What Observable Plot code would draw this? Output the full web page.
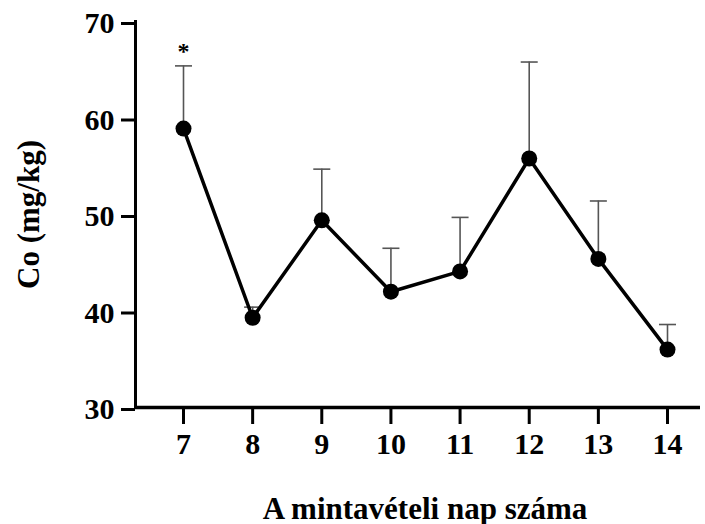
<!DOCTYPE html>
<html>
<head>
<meta charset="utf-8">
<script src="https://cdn.jsdelivr.net/npm/d3@7"></script>
<script src="https://cdn.jsdelivr.net/npm/@observablehq/plot@0.6"></script>
<style>
  html, body { margin: 0; padding: 0; background: #fff; }
  #chart { width: 705px; height: 524px; }
</style>
</head>
<body>
<div id="chart"></div>
<script>
const days = [7, 8, 9, 10, 11, 12, 13, 14];
const means = [58.9, 39.3, 49.4, 42.0, 44.1, 55.8, 45.4, 36.0];
const upper = [65.4, 40.4, 54.7, 46.5, 49.7, 65.8, 51.4, 38.6];
const yTicks = [30, 40, 50, 60, 70];
const sigMarks = ["*", "", "", "", "", "", "", ""];
const xTitle = "A mintavételi nap száma";
const yTitle = "Co (mg/kg)";

const data = days.map((d, i) => ({day: d, mean: means[i], upper: upper[i], sig: sigMarks[i]}));

const capSymbol = {
  draw(ctx, size) {
    const r = Math.sqrt(size / Math.PI);
    ctx.moveTo(-r, 0);
    ctx.lineTo(r, 0);
  }
};

const font = "'Liberation Serif', 'Times New Roman', serif";

const chart = Plot.plot({
  width: 705,
  height: 524,
  marginLeft: 135,
  marginRight: 5,
  marginTop: 21,
  marginBottom: 117,
  style: {fontFamily: font, fontWeight: "bold", color: "#000", background: "#fff", overflow: "visible"},
  x: {domain: [7, 14], range: [183, 667]},
  y: {domain: [30, 70]},
  marks: [
    Plot.axisY({ticks: yTicks, tickSize: 14, tickPadding: 7, strokeWidth: 3, fontSize: 30, label: null, dy: 2, tickFormat: d3.format("d")}),
    Plot.axisX({ticks: days, tickSize: 17, tickPadding: 8, strokeWidth: 3, fontSize: 30, label: null, tickFormat: d3.format("d")}),
    Plot.frame({anchor: "left", strokeWidth: 3}),
    Plot.ruleY([30], {strokeWidth: 3.5}),
    Plot.ruleX(data, {x: "day", y1: "mean", y2: "upper", stroke: "#555", strokeWidth: 1.6}),
    Plot.dot(data, {x: "day", y: "upper", symbol: capSymbol, r: 8.5, stroke: "#555", strokeWidth: 1.6}),
    Plot.line(data, {x: "day", y: "mean", stroke: "#000", strokeWidth: 3.5}),
    Plot.dot(data, {x: "day", y: "mean", r: 8, fill: "#000", stroke: "none"}),
    Plot.text(data, {x: "day", y: "upper", text: "sig", dy: -15, fontSize: 24, fontWeight: "bold"}),
    Plot.text([xTitle], {text: d => d, frameAnchor: "bottom", textAnchor: "middle", lineAnchor: "bottom", dx: 7, dy: 111, fontSize: 31, fontWeight: "bold"}),
    Plot.text([yTitle], {text: d => d, frameAnchor: "left", textAnchor: "middle", lineAnchor: "middle", dx: -106, rotate: -90, fontSize: 31, fontWeight: "bold"})
  ]
});
document.getElementById("chart").appendChild(chart);
</script>
</body>
</html>
